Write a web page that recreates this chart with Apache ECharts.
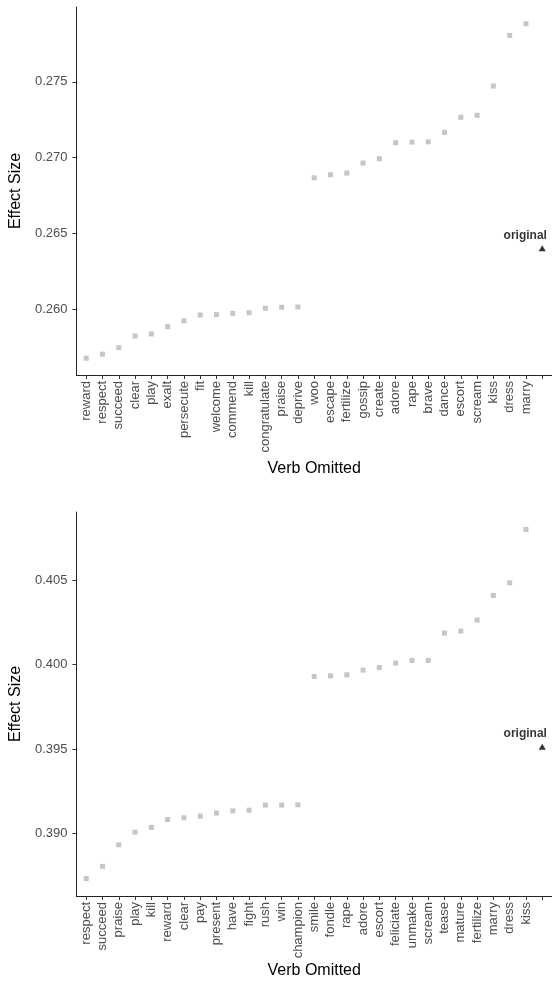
<!DOCTYPE html>
<html>
<head>
<meta charset="utf-8">
<script src="https://cdn.jsdelivr.net/npm/echarts@6/dist/echarts.min.js"></script>
<style>
  html, body { margin: 0; padding: 0; background: #fff; }
  #chart { width: 552px; height: 982px; }
</style>
</head>
<body>
<div id="chart"></div>
<script>
// Panel A: effect size when each verb is left out
const verbsA = ['reward', 'respect', 'succeed', 'clear', 'play', 'exalt', 'persecute', 'fit',
  'welcome', 'commend', 'kill', 'congratulate', 'praise', 'deprive', 'woo', 'escape',
  'fertilize', 'gossip', 'create', 'adore', 'rape', 'brave', 'dance', 'escort', 'scream',
  'kiss', 'dress', 'marry'];
const effectA = [0.2568, 0.25707, 0.2575, 0.25827, 0.2584, 0.25888, 0.25926, 0.25965,
  0.25967, 0.25976, 0.2598, 0.26009, 0.26016, 0.26018, 0.26868, 0.26888,
  0.26899, 0.26965, 0.26993, 0.27099, 0.27103, 0.27105, 0.27167, 0.27266, 0.27279,
  0.27472, 0.27805, 0.27882];
const originalA = 0.26404;
const yTicksA = [0.260, 0.265, 0.270, 0.275];

// Panel B
const verbsB = ['respect', 'succeed', 'praise', 'play', 'kill', 'reward', 'clear', 'pay',
  'present', 'have', 'fight', 'rush', 'win', 'champion', 'smile', 'fondle', 'rape', 'adore',
  'escort', 'feliciate', 'unmake', 'scream', 'tease', 'mature', 'fertilize', 'marry',
  'dress', 'kiss'];
const effectB = [0.38733, 0.38805, 0.38933, 0.39008, 0.39036, 0.39083, 0.39093, 0.39103,
  0.39121, 0.39134, 0.39138, 0.39168, 0.39168, 0.3917, 0.3993, 0.39934, 0.3994, 0.39968,
  0.39983, 0.40009, 0.40025, 0.40025, 0.40187, 0.40199, 0.40264, 0.4041,
  0.40485, 0.40801];
const originalB = 0.39514;
const yTicksB = [0.390, 0.395, 0.400, 0.405];

const originalLabel = 'original';
const xTitle = 'Verb Omitted';
const yTitle = 'Effect Size';

const FONT = '"Liberation Sans", Arial, Helvetica, sans-serif';

// the slot after the last verb holds the unlabelled "original" marker
function slots(verbs) { return verbs.concat(['']); }
function idx(n) { return Array.from({ length: n }, (_, i) => i); }

// ggplot-style padding: 5% of the data range on the value axis
function padRange(vals) {
  const lo = Math.min(...vals), hi = Math.max(...vals);
  const p = (hi - lo) * 0.05;
  return [lo - p, hi + p];
}

function xAxisFor(verbs, gridIndex, nameGap) {
  const cats = slots(verbs);
  return {
    type: 'value', gridIndex,
    min: -0.6, max: cats.length - 1 + 0.6,
    name: xTitle, nameLocation: 'middle', nameGap,
    nameTextStyle: { fontFamily: FONT, fontSize: 16, color: '#000' },
    axisLine: { show: true, onZero: false, lineStyle: { color: '#222', width: 1 } },
    axisTick: { show: true, length: 4, lineStyle: { color: '#333' }, customValues: idx(cats.length) },
    axisLabel: {
      customValues: idx(cats.length), rotate: 90, margin: 6,
      fontFamily: FONT, fontSize: 13, color: '#4d4d4d',
      formatter: v => cats[Math.round(v)]
    },
    splitLine: { show: false }
  };
}

function yAxisFor(vals, ticks, gridIndex) {
  const [lo, hi] = padRange(vals);
  return {
    type: 'value', gridIndex, min: lo, max: hi,
    name: yTitle, nameLocation: 'middle', nameGap: 41,
    nameTextStyle: { fontFamily: FONT, fontSize: 16, color: '#000' },
    axisLine: { show: true, onZero: false, lineStyle: { color: '#222', width: 1 } },
    axisTick: { show: true, length: 4, lineStyle: { color: '#333' }, customValues: ticks },
    axisLabel: {
      customValues: ticks, margin: 9,
      fontFamily: FONT, fontSize: 13, color: '#4d4d4d',
      formatter: v => v.toFixed(3)
    },
    splitLine: { show: false }
  };
}

function pointSeries(verbs, vals, axisIndex) {
  return {
    type: 'scatter', xAxisIndex: axisIndex, yAxisIndex: axisIndex,
    symbol: 'rect', symbolSize: 5,
    itemStyle: { color: '#b8b8b8' },
    data: vals.map((v, i) => [i, v]),
    silent: true
  };
}

function originalSeries(verbs, orig, axisIndex) {
  return {
    type: 'scatter', xAxisIndex: axisIndex, yAxisIndex: axisIndex,
    symbol: 'triangle', symbolSize: [7, 6],
    itemStyle: { color: '#000' },
    label: {
      show: true, position: 'top', distance: 4, offset: [-17, 0],
      formatter: originalLabel,
      fontFamily: FONT, fontSize: 12, fontWeight: 'bold', color: '#000'
    },
    data: [[verbs.length, orig]],
    silent: true
  };
}

const chart = echarts.init(document.getElementById('chart'), null, { renderer: 'canvas' });
chart.setOption({
  backgroundColor: '#fff',
  animation: false,
  grid: [
    { left: 73, right: -3, top: 7, bottom: 607, containLabel: false },
    { left: 73, right: -3, top: 512, bottom: 86, containLabel: false }
  ],
  xAxis: [xAxisFor(verbsA, 0, 86), xAxisFor(verbsB, 1, 67)],
  yAxis: [
    yAxisFor(effectA.concat([originalA]), yTicksA, 0),
    yAxisFor(effectB.concat([originalB]), yTicksB, 1)
  ],
  series: [
    pointSeries(verbsA, effectA, 0),
    originalSeries(verbsA, originalA, 0),
    pointSeries(verbsB, effectB, 1),
    originalSeries(verbsB, originalB, 1)
  ]
});
</script>
</body>
</html>
